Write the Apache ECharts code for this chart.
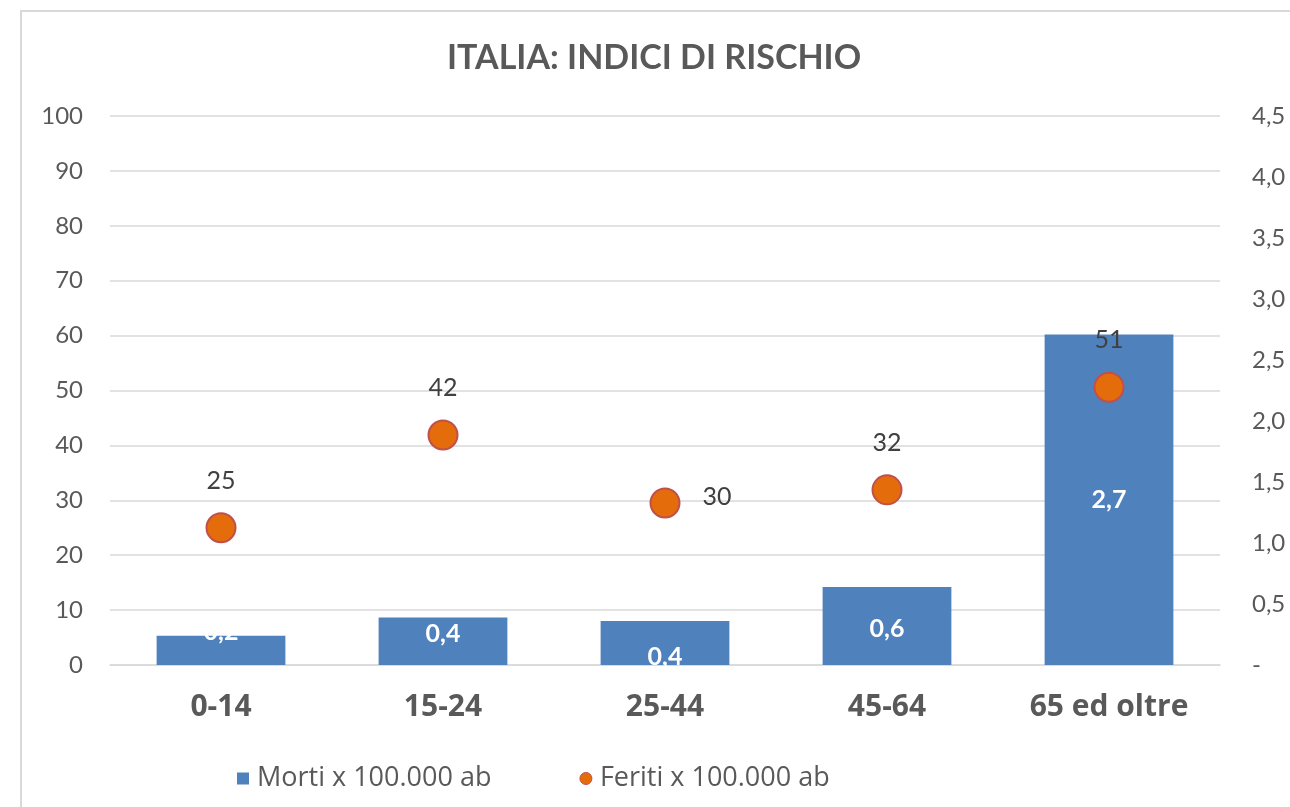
<!DOCTYPE html>
<html>
<head>
<meta charset="utf-8">
<script src="https://cdn.jsdelivr.net/npm/echarts@6/dist/echarts.min.js"></script>
<style>
html,body{margin:0;padding:0;background:#fff;}
#chart{width:1290px;height:807px;}
</style>
</head>
<body>
<div id="chart"></div>
<script>
const categories = ['0-14', '15-24', '25-44', '45-64', '65 ed oltre'];
const morti = [0.24, 0.39, 0.36, 0.64, 2.71];
const feriti = [25.0, 41.9, 29.5, 31.9, 50.6];
const leftTicks = {min: 0, max: 100, interval: 10};
const rightTicks = {min: 0, max: 4.5, interval: 0.5};
const titleText = 'ITALIA: INDICI DI RISCHIO';
const seriesNames = ['Morti x 100.000 ab', 'Feriti x 100.000 ab'];

const FONT = 'Lato';
const TXT = '#595959';
const barLabelOffsets = [[0,-18],[0,-7],[0,14],[0,3],[0,0]];

const chart = echarts.init(document.getElementById('chart'));
chart.setOption({
  animation: false,
  backgroundColor: '#fff',
  textStyle: {fontFamily: FONT},
  graphic: [{
    type: 'rect', silent: true,
    shape: {x: 21, y: 11, width: 1400, height: 1000},
    style: {fill: 'none', stroke: '#d9d9d9', lineWidth: 2}
  }],
  title: {
    text: titleText, left: 442, top: 36,
    textStyle: {fontFamily: FONT, fontSize: 34, fontWeight: 'bold', color: TXT}
  },
  legend: {
    left: 232, top: 760, itemGap: 88, itemWidth: 12, itemHeight: 12,
    textStyle: {fontFamily: 'Open Sans', fontSize: 27, color: TXT, padding: [0,0,0,3]},
    data: [
      {name: seriesNames[0], icon: 'rect'},
      {name: seriesNames[1], icon: 'circle', itemStyle: {color: '#E46C0A', borderColor: '#C0504D', borderWidth: 1}}
    ]
  },
  grid: {left: 110, right: 70, top: 116, bottom: 142},
  xAxis: {
    type: 'category', data: categories,
    axisLine: {show: true, lineStyle: {color: '#d9d9d9', width: 1.5}},
    axisTick: {show: false},
    axisLabel: {fontFamily: 'Open Sans', fontSize: 30, fontWeight: 'bold', color: TXT, margin: 27}
  },
  yAxis: [{
    type: 'value', min: leftTicks.min, max: leftTicks.max, interval: leftTicks.interval,
    axisLine: {show: false}, axisTick: {show: false},
    splitLine: {lineStyle: {color: '#d9d9d9', width: 1.5}},
    axisLabel: {fontFamily: FONT, fontSize: 24, color: TXT, margin: 27}
  }, {
    type: 'value', min: rightTicks.min, max: rightTicks.max, interval: rightTicks.interval,
    axisLine: {show: false}, axisTick: {show: false}, splitLine: {show: false},
    axisLabel: {fontFamily: FONT, fontSize: 24, color: TXT, margin: 32,
      formatter: v => v === 0 ? '-' : v.toFixed(1).replace('.', ',')}
  }],
  series: [{
    name: seriesNames[0], type: 'bar', yAxisIndex: 1, barWidth: '58%',
    itemStyle: {color: '#4F81BD'},
    data: morti.map((v, i) => ({value: v, label: {offset: barLabelOffsets[i]}})),
    label: {show: true, position: 'inside', color: '#fff', fontFamily: FONT, fontSize: 25, fontWeight: 'bold',
      formatter: p => p.value.toFixed(1).replace('.', ',')},
    z: 2
  }, {
    name: seriesNames[1], type: 'scatter', yAxisIndex: 0, symbol: 'circle', symbolSize: 29,
    itemStyle: {color: '#E46C0A', borderColor: '#C0504D', borderWidth: 2, opacity: 1},
    data: feriti.map((v, i) => i === 2
      ? {value: v, label: {position: 'right', distance: 22, offset: [0, -6]}}
      : {value: v}),
    label: {show: true, position: 'top', distance: 19, color: '#404040', fontFamily: FONT, fontSize: 25,
      formatter: p => Math.round(p.value).toString()},
    z: 3
  }]
});
</script>
</body>
</html>
